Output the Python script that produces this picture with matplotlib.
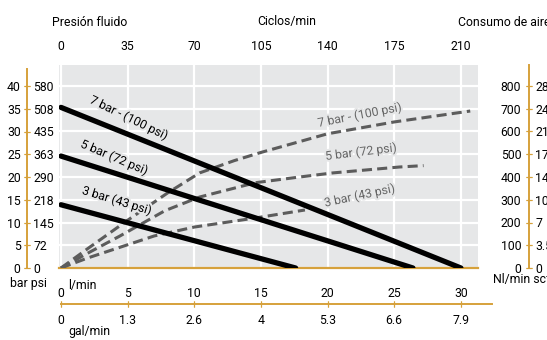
import matplotlib
matplotlib.use("Agg")
import matplotlib.pyplot as plt
import matplotlib.patheffects as pe

plt.rcParams['font.family'] = ['Roboto', 'DejaVu Sans']
plt.rcParams['font.size'] = 8.8

# flow axis (l/min) and its companions
flow_ticks = [0, 5, 10, 15, 20, 25, 30]
gal_labels = ['0', '1.3', '2.6', '4', '5.3', '6.6', '7.9']
cycle_labels = ['0', '35', '70', '105', '140', '175', '210']

# pressure axis (bar) and psi labels
bar_ticks = [0, 5, 10, 15, 20, 25, 30, 35, 40]
psi_labels = ['0', '72', '145', '218', '290', '363', '435', '508', '580']

# air consumption axis (Nl/min) and scf labels
air_ticks = [0, 100, 200, 300, 400, 500, 600, 700, 800]
scf_labels = ['0', '3.5', '7', '10', '14', '17', '21', '24', '28']

# fluid pressure curves (solid): l/min vs bar
p7_flow = [0, 30]
p7_bar = [35.3, 0]
p5_flow = [0, 26.4]
p5_bar = [24.6, 0]
p3_flow = [0, 17.6]
p3_bar = [13.9, 0]

# air consumption curves (dashed): l/min vs Nl/min
a7_flow = [0, 2, 5, 8, 10.4, 13, 15, 20, 25, 30.7]
a7_air = [0, 85, 210, 330, 418, 472, 508, 590, 642, 690]
a5_flow = [0, 2, 4.4, 7.8, 10.4, 14.6, 17.9, 20.4, 25.4, 27.2]
a5_air = [0, 65, 140, 252, 312, 375, 400, 418, 444, 450]
a3_flow = [0, 2, 7, 10, 14.6, 18.3]
a3_air = [0, 44, 141, 180, 220, 255]

W, H = 547, 340
orange = '#d6a13b'
bg = '#e6e7e8'
dash_col = '#5c5c5c'
lab_col = '#666666'


def fx(px):
    return px / W


def fy(py):
    return 1 - py / H


fig = plt.figure(figsize=(W / 100, H / 100), dpi=100)

# main plot area
left, right, top, bottom = 59, 478, 65, 268
ax = fig.add_axes([fx(left), fy(bottom), (right - left) / W, (bottom - top) / H])
ax.set_facecolor(bg)
xmin = (left - 61) / 13.33
xmax = (right - 61) / 13.33
air_max = (bottom - top) / 0.2275
ax.set_xlim(xmin, xmax)
ax.set_ylim(0, air_max)
ax.set_xticks(flow_ticks)
ax.set_yticks(air_ticks)
ax.grid(True, color='white', lw=1.6)
ax.set_axisbelow(True)
ax.tick_params(length=0, labelbottom=False, labelleft=False)
for s in ['top', 'right', 'left']:
    ax.spines[s].set_visible(False)
ax.spines['bottom'].set_color(orange)
ax.spines['bottom'].set_linewidth(1.6)

# cycles on top
axT = ax.twiny()
axT.set_xlim(xmin, xmax)
axT.set_xticks(flow_ticks, labels=cycle_labels)
axT.tick_params(length=0, pad=9)
for s in axT.spines.values():
    s.set_visible(False)

# bar scale for the solid lines
axP = ax.twinx()
axP.set_ylim(0, air_max / 20)
axP.axis('off')

dash = (0, (3.3, 1.7))
ax.plot(a7_flow, a7_air, color=dash_col, lw=2.2, ls=dash, zorder=3)
ax.plot(a5_flow, a5_air, color=dash_col, lw=2.2, ls=dash, zorder=3)
ax.plot(a3_flow, a3_air, color=dash_col, lw=2.2, ls=dash, zorder=3)

axP.plot(p7_flow, p7_bar, color='black', lw=3.8, solid_capstyle='round', zorder=4)
axP.plot(p5_flow, p5_bar, color='black', lw=3.8, solid_capstyle='round', zorder=4)
axP.plot(p3_flow, p3_bar, color='black', lw=3.8, solid_capstyle='round', zorder=4)

halo = [pe.withStroke(linewidth=3, foreground=bg)]
axP.text(5.1, 33.0, '7 bar - (100 psi)', rotation=-26, ha='center', va='center',
         path_effects=halo, zorder=5)
axP.text(4.0, 24.3, '5 bar (72 psi)', rotation=-23, ha='center', va='center',
         path_effects=halo, zorder=5)
axP.text(4.2, 14.8, '3 bar (43 psi)', rotation=-17, ha='center', va='center',
         path_effects=halo, zorder=5)

ax.text(22.4, 672, '7 bar - (100 psi)', rotation=11, ha='center', va='center',
        color=lab_col, path_effects=halo, zorder=5)
ax.text(22.5, 510, '5 bar (72 psi)', rotation=7, ha='center', va='center',
        color=lab_col, path_effects=halo, zorder=5)
ax.text(22.4, 318, '3 bar (43 psi)', rotation=12, ha='center', va='center',
        color=lab_col, path_effects=halo, zorder=5)

# left pressure scale
axL = fig.add_axes([fx(27), fy(bottom), 1e-5, (bottom - top) / H])
axL.set_ylim(0, air_max / 20)
axL.set_xticks([])
axL.set_yticks(bar_ticks, labels=[str(b) for b in bar_ticks])
axL.tick_params(axis='y', direction='inout', length=4, color=orange, pad=2.5)
for s in ['top', 'bottom', 'right']:
    axL.spines[s].set_visible(False)
axL.spines['left'].set_color(orange)
axL.spines['left'].set_linewidth(1.4)
axL.spines['left'].set_bounds(0, 43.8)
axL.patch.set_visible(False)
axL2 = axL.twinx()
axL2.set_ylim(0, air_max / 20)
axL2.set_yticks(bar_ticks, labels=psi_labels)
axL2.tick_params(axis='y', direction='inout', length=4, color=orange, pad=2.5)
for s in axL2.spines.values():
    s.set_visible(False)

# right air scale
axR = fig.add_axes([fx(529), fy(bottom), 1e-5, (bottom - top) / H])
axR.set_ylim(0, air_max)
axR.set_xticks([])
axR.set_yticks(air_ticks, labels=[str(a) for a in air_ticks])
axR.tick_params(axis='y', direction='inout', length=4, color=orange, pad=3.5)
for s in ['top', 'bottom', 'right']:
    axR.spines[s].set_visible(False)
axR.spines['left'].set_color(orange)
axR.spines['left'].set_linewidth(1.4)
axR.spines['left'].set_bounds(0, air_max)
axR.patch.set_visible(False)
axR2 = axR.twinx()
axR2.set_ylim(0, air_max)
axR2.set_yticks(air_ticks, labels=scf_labels)
axR2.tick_params(axis='y', direction='inout', length=4, color=orange, pad=2.5)
for s in axR2.spines.values():
    s.set_visible(False)

# bottom flow scale
axB = fig.add_axes([fx(left), fy(304), (right - left) / W, 1e-5])
axB.set_xlim(xmin, xmax)
axB.set_yticks([])
axB.set_xticks(flow_ticks, labels=gal_labels)
axB.tick_params(axis='x', direction='inout', length=4, color=orange, pad=5)
for s in ['top', 'left', 'right']:
    axB.spines[s].set_visible(False)
axB.spines['bottom'].set_color(orange)
axB.spines['bottom'].set_linewidth(1.4)
axB.spines['bottom'].set_bounds(0, (492 - 61) / 13.33)
axB.patch.set_visible(False)
axB2 = axB.twiny()
axB2.set_xlim(xmin, xmax)
axB2.set_xticks(flow_ticks, labels=[str(f) for f in flow_ticks])
axB2.tick_params(axis='x', direction='inout', length=4, color=orange, pad=1)
for s in axB2.spines.values():
    s.set_visible(False)

# axis titles
fig.text(fx(52), fy(22), 'Presión fluido', ha='left', va='center')
fig.text(fx(287), fy(22), 'Ciclos/min', ha='center', va='center')
fig.text(fx(458), fy(22), 'Consumo de aire', ha='left', va='center')
fig.text(fx(28), fy(283), 'bar psi', ha='center', va='center')
fig.text(fx(68), fy(285), 'l/min', ha='left', va='center')
fig.text(fx(68), fy(332), 'gal/min', ha='left', va='center')
fig.text(fx(493), fy(279), 'Nl/min scf', ha='left', va='center')

fig.savefig('out.png', dpi=100)
